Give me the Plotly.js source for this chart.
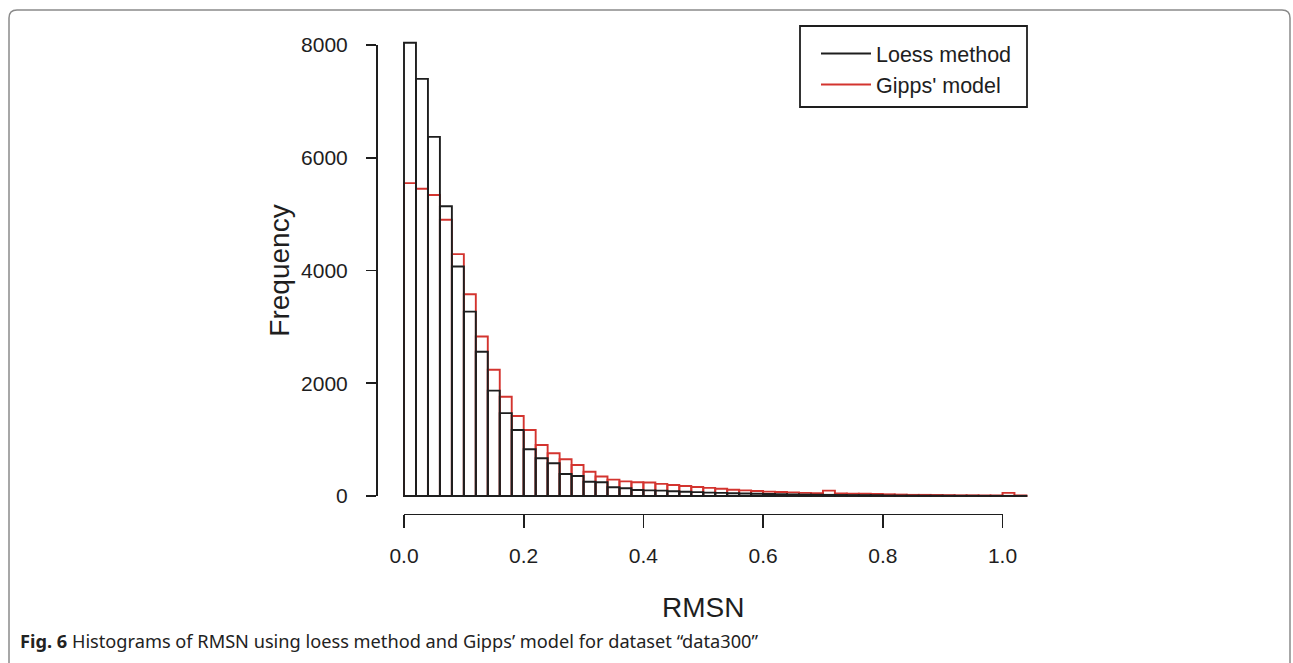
<!DOCTYPE html>
<html>
<head>
<meta charset="utf-8">
<script src="https://cdn.plot.ly/plotly-3.0.1.min.js"></script>
<style>
  html, body { margin: 0; padding: 0; background: #ffffff; }
  #chart { width: 1293px; height: 663px; }
</style>
</head>
<body>
<div id="chart"></div>
<script>
// ---- data (histogram counts per 0.02-wide RMSN bin, starting at 0) ----
const binStart = 0;
const binWidth = 0.02;

const loessCounts = [
  8040, 7400, 6370, 5140, 4070, 3270, 2560, 1870, 1470, 1170,
   830,  670,  580,  390,  355,  254,  243,  154,  137,  106,
   100,   95,   85,   75,   68,   60,   55,   50,   45,   40,
    36,   32,   28,   25,   22,   20,   18,   16,   15,   14,
     8,    7,    6,    5,    5,    4,    3,    3,    2,    2,
     2,    2
];

const gippsCounts = [
  5550, 5450, 5340, 4900, 4290, 3580, 2830, 2240, 1760, 1420,
  1170,  905,  757,  651,  550,  431,  345,  290,  260,  245,
   240,  215,  195,  178,  160,  145,  128,  110,  100,   90,
    78,   72,   65,   55,   50,   95,   45,   40,   40,   35,
    30,   25,   20,   20,   18,   15,   12,   12,   10,   10,
    55,   10
];

const seriesNames = ["Loess method", "Gipps' model"];
const xTickVals = [0, 0.2, 0.4, 0.6, 0.8, 1.0];
const xTickText = ["0.0", "0.2", "0.4", "0.6", "0.8", "1.0"];
const yTickVals = [0, 2000, 4000, 6000, 8000];
const yTickText = ["0", "2000", "4000", "6000", "8000"];
const xTitle = "RMSN";
const yTitle = "Frequency";
const caption = "<b>Fig. 6</b> Histograms of RMSN using loess method and Gipps\u2019 model for dataset \u201cdata300\u201d";

// ---- styling ----
const W = 1293, H = 663;
const INK = "#1e1e1e";
const RED = "#d3342f";
const AX_FONT = "Liberation Sans, Arial, sans-serif";
const px = v => v / W;          // pixel x -> paper
const py = v => (H - v) / H;    // pixel y -> paper

// pixel anchors of the value scales
const X0PX = 404, X1PX = 1002.5;   // x = 0 and x = 1
const Y0PX = 496, Y8PX = 45;       // y = 0 and y = 8000
const xPerPx = 1 / (X1PX - X0PX);
const yPerPx = 8000 / (Y0PX - Y8PX);

// hidden data area (wider than the R axes so nothing is clipped)
const dataLeft = 388, dataRight = 1045, dataTop = 20, dataBottom = 506;

const traces = [
  {
    type: "bar", x0: binStart + binWidth / 2, dx: binWidth, y: gippsCounts,
    width: binWidth,
    marker: { color: "rgba(0,0,0,0)", line: { color: RED, width: 1.9 } },
    showlegend: false, hoverinfo: "skip"
  },
  {
    type: "bar", x0: binStart + binWidth / 2, dx: binWidth, y: loessCounts,
    width: binWidth,
    marker: { color: "rgba(0,0,0,0)", line: { color: INK, width: 1.9 } },
    showlegend: false, hoverinfo: "skip"
  },
  {
    type: "scatter", mode: "lines", x: [null], y: [null],
    xaxis: "x2", yaxis: "y2", name: seriesNames[0],
    line: { color: INK, width: 1.9 }, hoverinfo: "skip"
  },
  {
    type: "scatter", mode: "lines", x: [null], y: [null],
    xaxis: "x2", yaxis: "y2", name: seriesNames[1],
    line: { color: RED, width: 1.9 }, hoverinfo: "skip"
  }
];

const layout = {
  width: W, height: H,
  margin: { l: 0, r: 0, t: 0, b: 0, pad: 0 },
  paper_bgcolor: "#ffffff",
  plot_bgcolor: "rgba(0,0,0,0)",
  barmode: "overlay",
  bargap: 0,
  showlegend: true,
  font: { family: AX_FONT, color: INK },
  xaxis: {
    domain: [px(dataLeft), px(dataRight)],
    range: [(dataLeft - X0PX) * xPerPx, (dataRight - X0PX) * xPerPx],
    visible: false, showgrid: false, zeroline: false, fixedrange: true
  },
  yaxis: {
    domain: [py(dataBottom), py(dataTop)],
    range: [(Y0PX - dataBottom) * yPerPx, (Y0PX - dataTop) * yPerPx],
    visible: false, showgrid: false, zeroline: false, fixedrange: true
  },
  xaxis2: {
    domain: [px(X0PX), px(X1PX)],
    range: [0, 1],
    anchor: "free", position: py(513.5),
    showline: true, linecolor: INK, linewidth: 1.8,
    ticks: "outside", ticklen: 13, tickwidth: 1.8, tickcolor: INK,
    tickmode: "array", tickvals: xTickVals, ticktext: xTickText,
    tickfont: { family: AX_FONT, size: 21, color: INK },
    ticklabelstandoff: 9,
    showgrid: false, zeroline: false, fixedrange: true,
    title: { text: xTitle, font: { family: AX_FONT, size: 28, color: INK }, standoff: 32 }
  },
  yaxis2: {
    domain: [py(Y0PX), py(Y8PX)],
    range: [0, 8000],
    anchor: "free", position: px(376),
    showline: true, linecolor: INK, linewidth: 1.8,
    ticks: "outside", ticklen: 10, tickwidth: 1.8, tickcolor: INK,
    tickmode: "array", tickvals: yTickVals, ticktext: yTickText,
    tickfont: { family: AX_FONT, size: 21, color: INK },
    ticklabelstandoff: 14,
    showgrid: false, zeroline: false, fixedrange: true,
    title: { text: yTitle, font: { family: AX_FONT, size: 28, color: INK }, standoff: 1 }
  },
  legend: {
    x: px(816), xanchor: "left",
    y: py(33), yanchor: "top",
    bgcolor: "rgba(0,0,0,0)",
    borderwidth: 0,
    font: { family: AX_FONT, size: 21.5, color: INK },
    itemwidth: 50,
    traceorder: "normal"
  },
  shapes: [
    {
      // outer figure frame
      type: "path", xref: "paper", yref: "paper",
      path: "M " + px(9) + "," + py(680) +
            " L " + px(9) + "," + py(18) +
            " Q " + px(9) + "," + py(10) + " " + px(17) + "," + py(10) +
            " L " + px(1282) + "," + py(10) +
            " Q " + px(1290) + "," + py(10) + " " + px(1290) + "," + py(18) +
            " L " + px(1290) + "," + py(680),
      line: { color: "#8a8a8a", width: 1.5 }
    },
    {
      // legend box
      type: "rect", xref: "paper", yref: "paper", layer: "below",
      x0: px(800), x1: px(1027), y0: py(107), y1: py(26),
      fillcolor: "#ffffff",
      line: { color: INK, width: 1.8 }
    }
  ],
  annotations: [
    {
      xref: "paper", yref: "paper",
      x: px(18), xanchor: "left",
      y: py(641), yanchor: "middle",
      text: caption, showarrow: false,
      font: { family: "Noto Sans, Open Sans, sans-serif", size: 18.2, color: "#222222" }
    }
  ]
};

Plotly.newPlot("chart", traces, layout, { displayModeBar: false, staticPlot: true });
</script>
</body>
</html>
